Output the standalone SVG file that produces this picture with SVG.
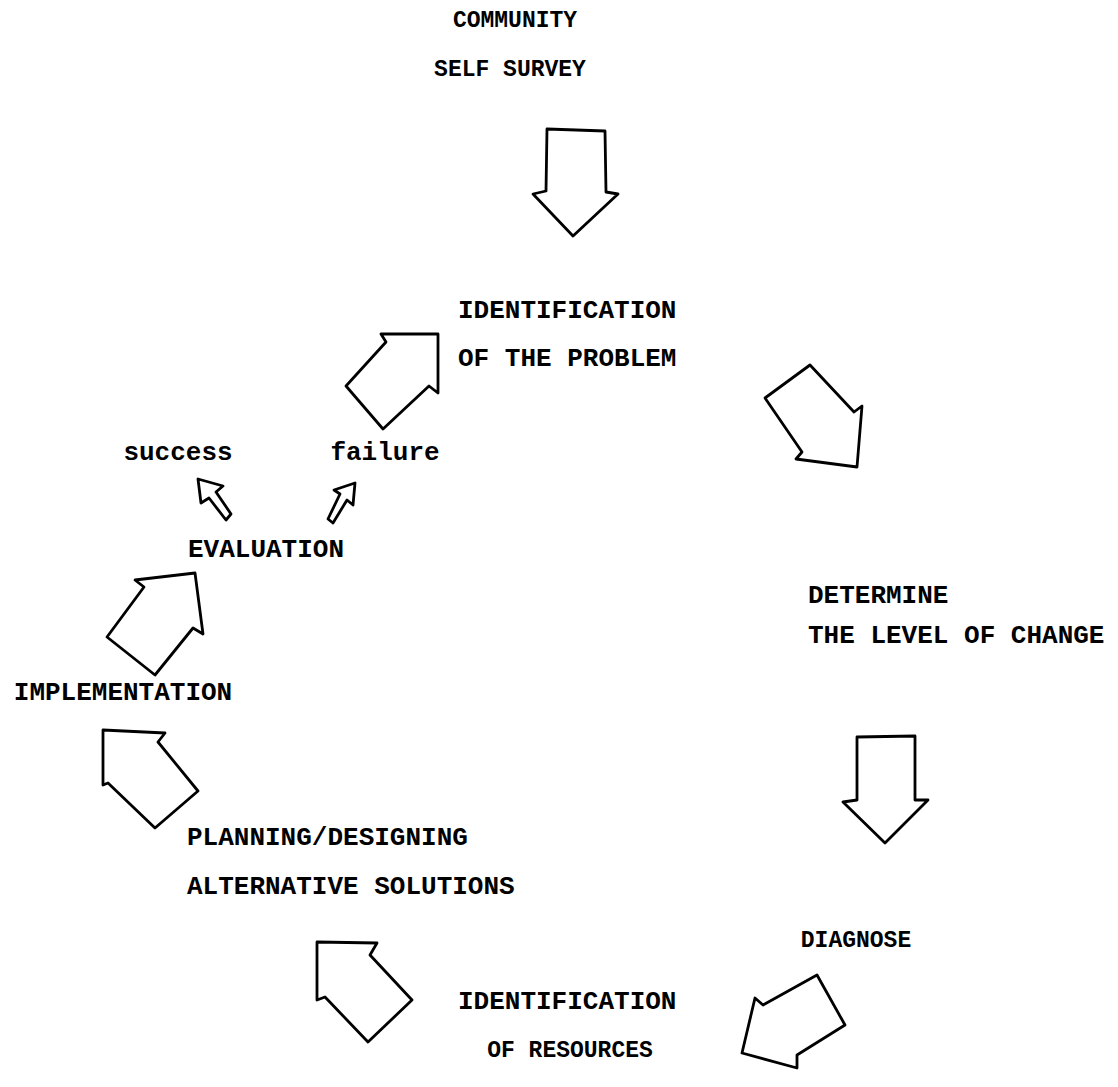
<svg xmlns="http://www.w3.org/2000/svg" width="1118" height="1087" viewBox="0 0 1118 1087">
<style>
.bg{fill:#fff}
.arrow{fill:#fff;stroke:#000;stroke-width:2.8;stroke-linejoin:round;stroke-linecap:round}
.t{font-family:"Liberation Mono","Courier New",monospace;font-weight:bold;font-size:26px;fill:#000}
.s{font-size:23px}
</style>
<rect class="bg" x="0" y="0" width="1118" height="1087"/>
<g id="node-community">
<text class="t s" x="515" y="27" text-anchor="middle">COMMUNITY</text>
<text class="t s" x="510" y="76" text-anchor="middle">SELF SURVEY</text>
</g>
<g id="node-identification-problem">
<text class="t" x="458" y="318">IDENTIFICATION</text>
<text class="t" x="458" y="366">OF THE PROBLEM</text>
</g>
<g id="node-determine">
<text class="t" x="808" y="603">DETERMINE</text>
<text class="t" x="808" y="643">THE LEVEL OF CHANGE</text>
</g>
<g id="node-diagnose">
<text class="t s" x="856" y="947" text-anchor="middle">DIAGNOSE</text>
</g>
<g id="node-identification-resources">
<text class="t" x="458" y="1009">IDENTIFICATION</text>
<text class="t s" x="570" y="1057" text-anchor="middle">OF RESOURCES</text>
</g>
<g id="node-planning">
<text class="t" x="187" y="845">PLANNING/DESIGNING</text>
<text class="t" x="187" y="894">ALTERNATIVE SOLUTIONS</text>
</g>
<g id="node-implementation">
<text class="t" x="123" y="700" text-anchor="middle">IMPLEMENTATION</text>
</g>
<g id="node-evaluation">
<text class="t" x="266" y="557" text-anchor="middle">EVALUATION</text>
</g>
<g id="node-success">
<text class="t" x="178" y="460" text-anchor="middle">success</text>
</g>
<g id="node-failure">
<text class="t" x="385" y="460" text-anchor="middle">failure</text>
</g>
<g id="connectors">
<path class="arrow" d="M547,129 L605,131 L606,192 L618,194 L573,236 L533,194 L546,191 Z"/>
<path class="arrow" d="M381,334 L438,334 L438,393 L429,386 L383,429 L346,386 L386,342 Z"/>
<path class="arrow" d="M765,398 L810,365 L854,412 L862,406 L857,467 L796,459 L802,452 Z"/>
<path class="arrow" d="M857,737 L915,736 L915,800 L928,800 L885,843 L843,802 L857,800 Z"/>
<path class="arrow" d="M742,1053 L755,998 L763,1005 L817,975 L845,1025 L797,1055 L797,1068 Z"/>
<path class="arrow" d="M317,942 L377,943 L370,955 L412,1000 L368,1042 L325,997 L317,1000 Z"/>
<path class="arrow" d="M103,730 L165,733 L158,742 L198,791 L155,828 L108,783 L103,785 Z"/>
<path class="arrow" d="M135,580 L195,573 L203,634 L193,628 L155,675 L107,637 L144,587 Z"/>
<path class="arrow" d="M198,479 L223,486 L216,492 L231,514 L226,520 L209,498 L201,503 Z"/>
<path class="arrow" d="M355,483 L353,505 L347,500 L333,523 L328,519 L340,494 L334,490 Z"/>
</g>
</svg>
